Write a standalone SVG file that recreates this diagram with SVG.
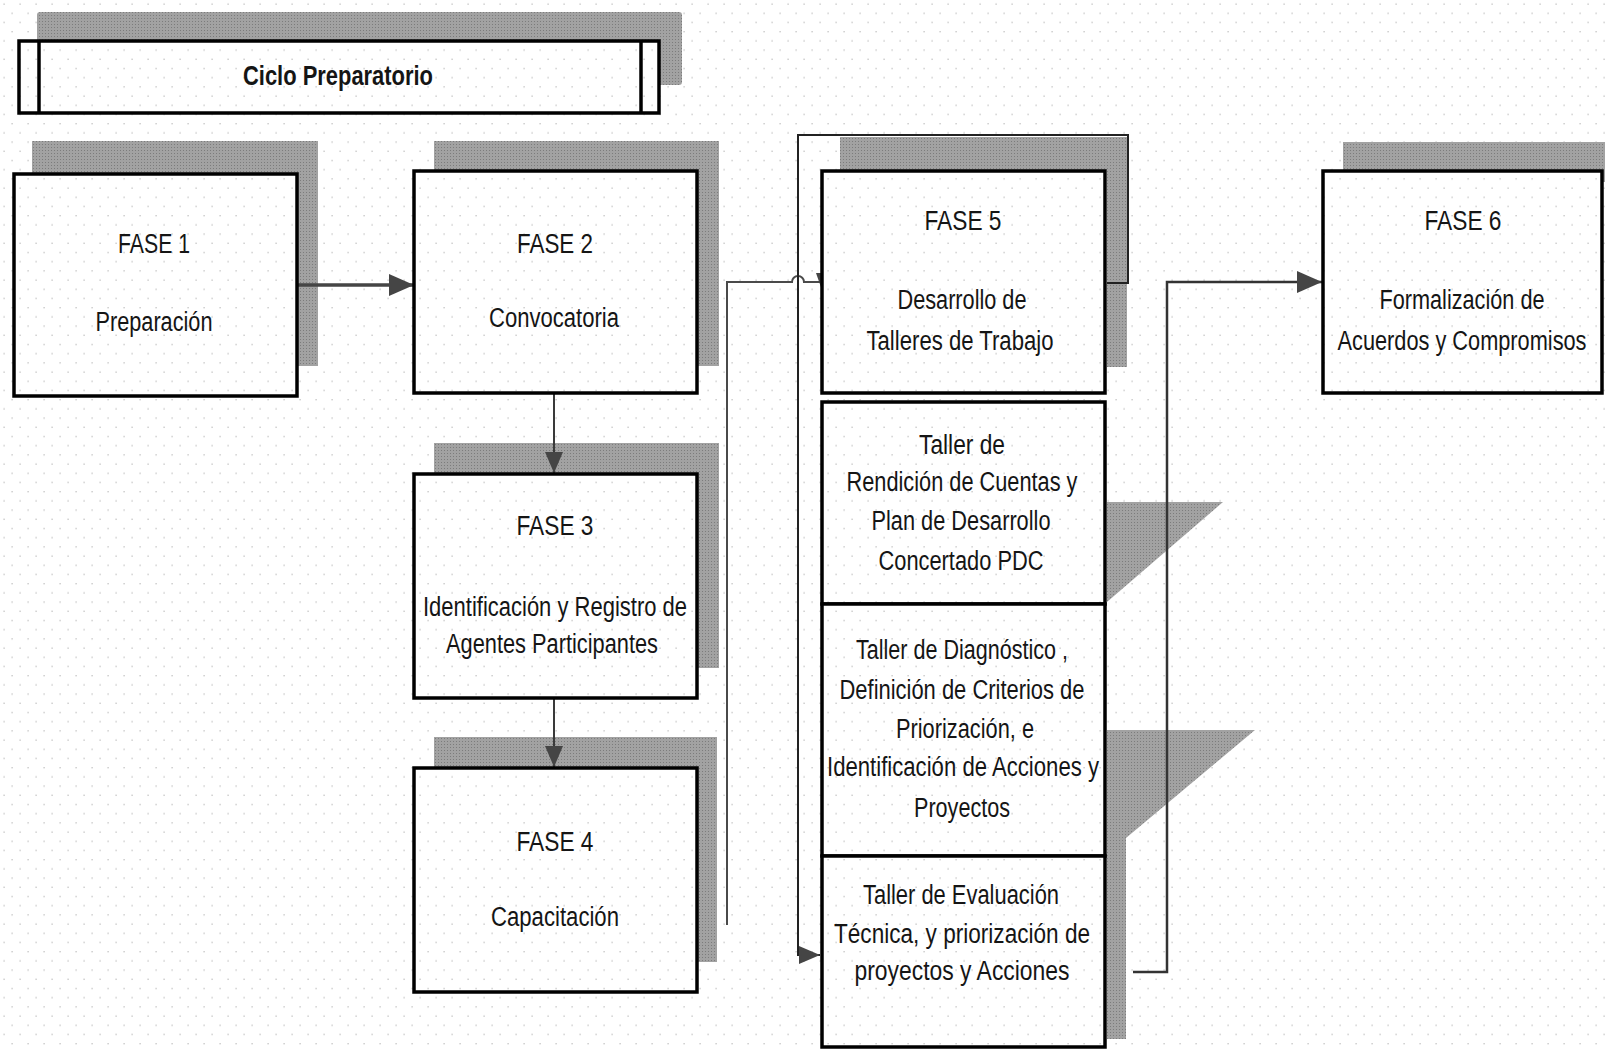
<svg xmlns="http://www.w3.org/2000/svg" width="1605" height="1049" viewBox="0 0 1605 1049">
<defs>
<pattern id="dots" patternUnits="userSpaceOnUse" width="16" height="18.4">
<rect width="16" height="18.4" fill="#ffffff"/>
<rect x="3.5" y="3.5" width="1.2" height="1.2" fill="#b5b5b5"/>
<rect x="11.5" y="12.7" width="1.2" height="1.2" fill="#b5b5b5"/>
</pattern>
<pattern id="shade" patternUnits="userSpaceOnUse" width="3" height="3">
<rect width="3" height="3" fill="#a2a2a2"/>
<rect x="0" y="0" width="1" height="1" fill="#7c7c7c"/>
</pattern>
<marker id="arr" markerUnits="userSpaceOnUse" markerWidth="26" markerHeight="22" refX="25" refY="11" orient="auto">
<path d="M0,0 L25,11 L0,22 z" fill="#454545"/>
</marker>
<marker id="arrs" markerUnits="userSpaceOnUse" markerWidth="22" markerHeight="18" refX="21" refY="9" orient="auto">
<path d="M0,0 L21,9 L0,18 z" fill="#454545"/>
</marker>
</defs>
<style>
.shadow{fill:url(#shade);stroke:none}
.box{fill:url(#dots);stroke:#000;stroke-width:3.5}
.t{font-family:"Liberation Sans",Arial,sans-serif;font-size:27px;fill:#151515;text-anchor:middle}
.b{font-weight:bold}
.c{fill:none;stroke:#3a3a3a;stroke-width:2}
.ca{fill:none;stroke:#454545;stroke-width:3.5}
</style>
<rect width="1605" height="1049" fill="url(#dots)"/>

<g id="shadows">
<rect class="shadow" x="37" y="12" width="645" height="73" rx="3"/>
<rect class="shadow" x="32" y="141" width="286" height="225"/>
<rect class="shadow" x="434" y="141" width="285" height="225"/>
<rect class="shadow" x="434" y="443" width="285" height="225"/>
<rect class="shadow" x="434" y="737" width="283" height="225"/>
<path class="shadow" d="M840,137 H1127 V367 H1107 V170 H840 Z"/>
<polygon class="shadow" points="1107,502 1223,502 1107,602"/>
<polygon class="shadow" points="1107,730 1255,730 1126,838 1126,1039 1107,1039"/>
<rect class="shadow" x="1343" y="142" width="262" height="40"/>
</g>

<g id="connectors">
<line class="ca" x1="297" y1="285" x2="414" y2="285" marker-end="url(#arr)"/>
<line class="c" x1="554" y1="393" x2="554" y2="473" marker-end="url(#arrs)"/>
<line class="c" x1="554" y1="698" x2="554" y2="767" marker-end="url(#arrs)"/>
<path class="c" d="M727,925 V282 H792 A6,6 0 0 1 804,282 H822" style="stroke:#4a4a4a"/>
<polygon points="816,273 831,273 823,293" fill="#454545"/>
<path class="c" d="M1107,283 H1128 V135 H798 V955 H820" marker-end="url(#arrs)" style="stroke:#222"/>
<path class="c" d="M1133,972 H1167 V282 H1322" marker-end="url(#arr)" style="stroke:#333;stroke-width:2.5"/>
</g>

<g id="ciclo">
<rect class="box" x="19" y="41" width="640" height="72"/>
<line x1="39" y1="41" x2="39" y2="113" stroke="#000" stroke-width="3.5"/>
<line x1="641" y1="41" x2="641" y2="113" stroke="#000" stroke-width="3.5"/>
<text class="t b" x="338" y="85" textLength="190" lengthAdjust="spacingAndGlyphs">Ciclo Preparatorio</text>
</g>

<g id="fase1">
<rect class="box" x="14" y="174" width="283" height="222"/>
<text class="t" x="154" y="253" textLength="72" lengthAdjust="spacingAndGlyphs">FASE 1</text>
<text class="t" x="154" y="331" textLength="117" lengthAdjust="spacingAndGlyphs">Preparación</text>
</g>

<g id="fase2">
<rect class="box" x="414" y="171" width="283" height="222"/>
<text class="t" x="555" y="253" textLength="76" lengthAdjust="spacingAndGlyphs">FASE 2</text>
<text class="t" x="554" y="327" textLength="130" lengthAdjust="spacingAndGlyphs">Convocatoria</text>
</g>

<g id="fase3">
<rect class="box" x="414" y="474" width="283" height="224"/>
<text class="t" x="555" y="535" textLength="77" lengthAdjust="spacingAndGlyphs">FASE 3</text>
<text class="t" x="555" y="616" textLength="264" lengthAdjust="spacingAndGlyphs">Identificación y Registro de</text>
<text class="t" x="552" y="653" textLength="212" lengthAdjust="spacingAndGlyphs">Agentes Participantes</text>
</g>

<g id="fase4">
<rect class="box" x="414" y="768" width="283" height="224"/>
<text class="t" x="555" y="851" textLength="77" lengthAdjust="spacingAndGlyphs">FASE 4</text>
<text class="t" x="555" y="926" textLength="128" lengthAdjust="spacingAndGlyphs">Capacitación</text>
</g>

<g id="fase5">
<rect class="box" x="822" y="171" width="283" height="222"/>
<text class="t" x="963" y="230" textLength="77" lengthAdjust="spacingAndGlyphs">FASE 5</text>
<text class="t" x="962" y="309" textLength="129" lengthAdjust="spacingAndGlyphs">Desarrollo de</text>
<text class="t" x="960" y="350" textLength="187" lengthAdjust="spacingAndGlyphs">Talleres de Trabajo</text>
</g>

<g id="taller1">
<rect class="box" x="822" y="402" width="283" height="202"/>
<text class="t" x="962" y="454" textLength="86" lengthAdjust="spacingAndGlyphs">Taller de</text>
<text class="t" x="962" y="491" textLength="231" lengthAdjust="spacingAndGlyphs">Rendición de Cuentas y</text>
<text class="t" x="961" y="530" textLength="179" lengthAdjust="spacingAndGlyphs">Plan de Desarrollo</text>
<text class="t" x="961" y="570" textLength="165" lengthAdjust="spacingAndGlyphs">Concertado PDC</text>
</g>

<g id="taller2">
<rect class="box" x="822" y="604" width="283" height="252"/>
<text class="t" x="962" y="659" textLength="212" lengthAdjust="spacingAndGlyphs">Taller de Diagnóstico ,</text>
<text class="t" x="962" y="699" textLength="245" lengthAdjust="spacingAndGlyphs">Definición de Criterios de</text>
<text class="t" x="965" y="738" textLength="138" lengthAdjust="spacingAndGlyphs">Priorización, e</text>
<text class="t" x="963" y="776" textLength="272" lengthAdjust="spacingAndGlyphs">Identificación de Acciones y</text>
<text class="t" x="962" y="817" textLength="96" lengthAdjust="spacingAndGlyphs">Proyectos</text>
</g>

<g id="taller3">
<rect class="box" x="822" y="856" width="283" height="191"/>
<text class="t" x="961" y="904" textLength="196" lengthAdjust="spacingAndGlyphs">Taller de Evaluación</text>
<text class="t" x="962" y="943" textLength="256" lengthAdjust="spacingAndGlyphs">Técnica, y  priorización de</text>
<text class="t" x="962" y="980" textLength="215" lengthAdjust="spacingAndGlyphs">proyectos  y Acciones</text>
</g>

<g id="fase6">
<rect class="box" x="1323" y="171" width="279" height="222"/>
<text class="t" x="1463" y="230" textLength="77" lengthAdjust="spacingAndGlyphs">FASE 6</text>
<text class="t" x="1462" y="309" textLength="165" lengthAdjust="spacingAndGlyphs">Formalización de</text>
<text class="t" x="1462" y="350" textLength="249" lengthAdjust="spacingAndGlyphs">Acuerdos y Compromisos</text>
</g>
</svg>
